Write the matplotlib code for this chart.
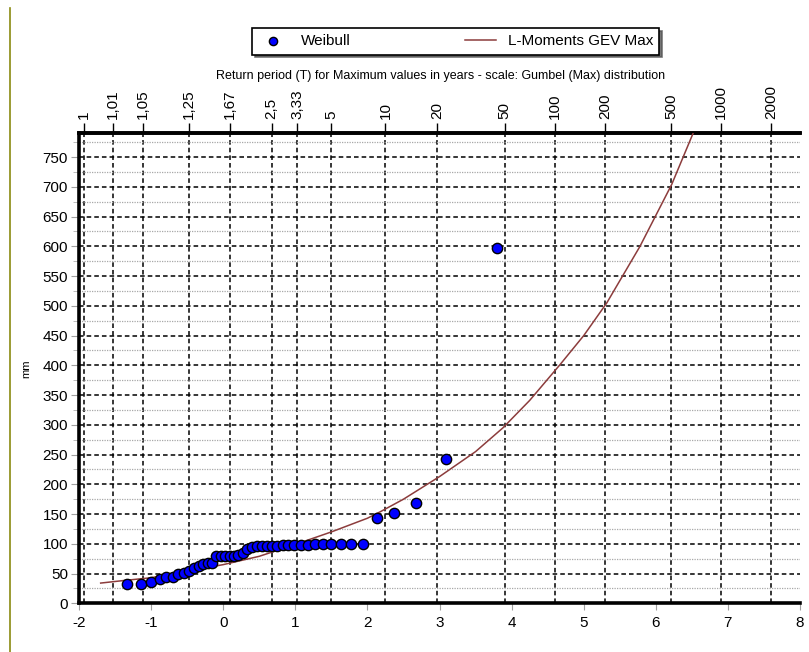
import numpy as np
import matplotlib.pyplot as plt
from matplotlib.lines import Line2D

plt.rcParams['font.family'] = ['Liberation Sans', 'DejaVu Sans']
plt.rcParams['axes.unicode_minus'] = False

# observed maxima (mm), sorted ascending
weibull_mm = [32, 32, 35, 41, 45, 45, 50, 51, 55, 59,
              63, 66, 67, 68, 79, 79, 79, 79, 79, 81,
              85, 91, 94, 96, 96, 96, 96, 97, 98, 98,
              98, 98, 98, 99, 99, 99, 99, 100, 100, 143,
              151, 169, 242, 597]

# fitted L-moments GEV curve (reduced variate -> mm)
gev_x = [-1.70, -1.40, -1.00, -0.55, 0.00, 0.50, 1.00, 1.50, 2.00, 2.18,
         2.50, 3.00, 3.50, 3.88, 4.25, 4.67, 5.00, 5.32, 5.78, 6.22, 6.52]
gev_mm = [34, 38, 43, 53, 65, 79, 99, 120, 143, 154,
          175, 213, 255, 295, 341, 401, 450, 505, 600, 704, 791]

# return periods shown on the top axis
return_periods = [1.001, 1.01, 1.05, 1.25, 1.67, 2.5, 3.33, 5, 10, 20,
                  50, 100, 200, 500, 1000, 2000]
rp_labels = ['1', '1,01', '1,05', '1,25', '1,67', '2,5', '3,33', '5', '10', '20',
             '50', '100', '200', '500', '1000', '2000']


def gumbel(T):
    T = np.asarray(T, dtype=float)
    return -np.log(-np.log(1 - 1 / T))


# Weibull plotting positions on the Gumbel scale
n = len(weibull_mm)
rank = np.arange(1, n + 1)
weibull_x = -np.log(-np.log(rank / (n + 1)))

fig = plt.figure(figsize=(8.09, 6.52), dpi=100)
ax = fig.add_axes([0.0977, 0.0747, 0.8912, 0.7208])

ax.plot(gev_x, gev_mm, color='#8c3c3c', lw=1.1, zorder=3,
        label='L-Moments GEV Max')
ax.scatter(weibull_x, weibull_mm, s=55, color='#0000ff', edgecolors='black',
           linewidths=1.0, zorder=4, label='Weibull')

ax.set_xlim(-2, 8)
ax.set_ylim(0, 790)
ax.set_axisbelow(True)

ax.set_xticks(np.arange(-2, 9, 1))
ax.set_xticks(gumbel(return_periods), minor=True)
ax.set_yticks(np.arange(0, 751, 50))
ax.set_yticks(np.arange(25, 790, 50), minor=True)

dash = (0, (3, 2))
ax.xaxis.grid(True, which='minor', color='black', linestyle=dash, lw=1.1)
ax.yaxis.grid(True, which='major', color='black', linestyle=dash, lw=1.1)
ax.yaxis.grid(True, which='minor', color='#a8a8a8', linestyle=(0, (1, 1)), lw=0.9)

ax.tick_params(axis='x', which='minor', length=0)
ax.tick_params(axis='x', which='major', length=5, color='#a0a0a0',
               labelsize=11, pad=4)
ax.tick_params(axis='y', which='major', length=6, color='#a0a0a0',
               labelsize=11, pad=2)
ax.tick_params(axis='y', which='minor', length=4, color='#b0b0b0')

for side in ['left', 'bottom', 'top']:
    ax.spines[side].set_linewidth(2.6)
ax.spines['right'].set_visible(False)

ax.set_ylabel('mm', fontsize=8, labelpad=8)

secax = ax.secondary_xaxis('top')
secax.set_xticks(gumbel(return_periods), rp_labels)
secax.tick_params(axis='x', labelrotation=90, length=7, width=1,
                  labelsize=11, pad=3)
secax.spines['top'].set_linewidth(2.6)

fig.text(0.545, 0.883,
         'Return period (T) for Maximum values in years - scale: Gumbel (Max) distribution',
         ha='center', va='center', fontsize=9)

handles, labels = ax.get_legend_handles_labels()
leg = fig.legend(handles[::-1], labels[::-1], ncol=2, loc='center',
                 bbox_to_anchor=(0.563, 0.9364), fontsize=11, columnspacing=7.5,
                 frameon=True, fancybox=False, shadow={'color': '#555555', 'alpha': 0.8},
                 edgecolor='black', framealpha=1, scatterpoints=1, markerscale=0.8)
leg.get_frame().set_linewidth(1.2)

# thin olive frame line at the left edge
fig.add_artist(Line2D([0.0118, 0.0118], [0, 1 - 8 / 652], color='#8a8a10',
                      lw=1.2, transform=fig.transFigure))

fig.savefig('out.png', dpi=100)
